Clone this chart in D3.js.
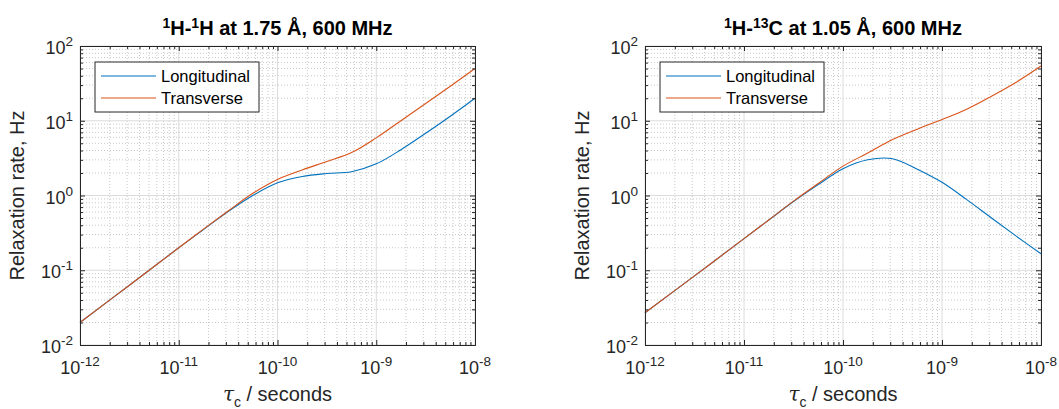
<!DOCTYPE html>
<html>
<head>
<meta charset="utf-8">
<script src="https://cdn.jsdelivr.net/npm/d3@7"></script>
<style>
  body { margin: 0; background: #fff; }
  svg { display: block; font-family: "Liberation Sans", Arial, Helvetica, sans-serif; }
</style>
</head>
<body>
<svg id="chart" width="1059" height="409"></svg>
<script>
// correlation times, log10 seconds
const logTau = [-12, -11.5, -11, -10.75, -10.5, -10.25, -10, -9.75, -9.5, -9.25, -9, -8.75, -8.5, -8.25, -8]

// 1H-1H at 1.75 A
const hhLongitudinal = [0.02, 0.063, 0.2, 0.35, 0.61, 1.0, 1.48, 1.8, 1.97, 2.08, 2.65, 4.1, 6.8, 11.5, 20]
const hhTransverse   = [0.02, 0.063, 0.2, 0.355, 0.62, 1.07, 1.64, 2.2, 2.85, 3.75, 5.9, 10.0, 17, 29, 50]

// 1H-13C at 1.05 A
const hcLongitudinal = [0.027, 0.084, 0.265, 0.47, 0.83, 1.4, 2.28, 3.0, 3.1, 2.25, 1.5, 0.88, 0.5, 0.286, 0.166]
const hcTransverse   = [0.027, 0.084, 0.265, 0.47, 0.84, 1.45, 2.47, 3.7, 5.6, 7.7, 10.4, 14.3, 21.3, 32.8, 54]

const xTicks = [1e-12, 1e-11, 1e-10, 1e-9, 1e-8]
const yTicks = [1e-2, 1e-1, 1e0, 1e1, 1e2]
const seriesNames = ["Longitudinal", "Transverse"]
const colors = ["#0072BD", "#D95319"]

const svg = d3.select("#chart")
const ink = "#262626"

function minorValues(lo, hi) {
    const out = []
    for (let e = lo; e < hi; e++) {
        for (let k = 2; k <= 9; k++) out.push(k * Math.pow(10, e))
    }
    return out
}

function powerLabel(sel, v) {
    const e = Math.round(Math.log10(v))
    sel.append("tspan").text("10")
    sel.append("tspan").attr("dy", -8).attr("font-size", 13.5).text(e)
}

function drawPanel(panel) {
    const g = svg.append("g").attr("transform", "translate(" + panel.left + "," + panel.top + ")")
    const w = panel.width, h = panel.height

    const x = d3.scaleLog().domain([1e-12, 1e-8]).range([0, w])
    const y = d3.scaleLog().domain([1e-2, 1e2]).range([h, 0])

    const xMinor = minorValues(-12, -8)
    const yMinor = minorValues(-2, 2)

    // grid
    const grid = g.append("g")
    grid.selectAll(".xminor").data(xMinor).join("line")
        .attr("x1", d => x(d)).attr("x2", d => x(d)).attr("y1", 0).attr("y2", h)
        .attr("stroke", "#c8c8c8").attr("stroke-dasharray", "1,2")
    grid.selectAll(".yminor").data(yMinor).join("line")
        .attr("y1", d => y(d)).attr("y2", d => y(d)).attr("x1", 0).attr("x2", w)
        .attr("stroke", "#c8c8c8").attr("stroke-dasharray", "1,2")
    grid.selectAll(".xmajor").data(xTicks).join("line")
        .attr("x1", d => x(d)).attr("x2", d => x(d)).attr("y1", 0).attr("y2", h)
        .attr("stroke", "#dcdcdc")
    grid.selectAll(".ymajor").data(yTicks).join("line")
        .attr("y1", d => y(d)).attr("y2", d => y(d)).attr("x1", 0).attr("x2", w)
        .attr("stroke", "#dcdcdc")

    // curves
    const line = d3.line()
        .x(d => x(d[0]))
        .y(d => y(d[1]))
        .curve(d3.curveCatmullRom.alpha(0.5))

    panel.series.forEach((vals, i) => {
        const pts = logTau.map((t, j) => [Math.pow(10, t), vals[j]])
        g.append("path")
            .datum(pts)
            .attr("d", line)
            .attr("fill", "none")
            .attr("stroke", colors[i])
            .attr("stroke-width", 1.1)
    })

    // axes, ticks inward on all four sides
    const axes = [
        d3.axisBottom(x).tickValues(xTicks).tickSizeInner(-5).tickSizeOuter(0).tickFormat(""),
        d3.axisTop(x).tickValues(xTicks).tickSizeInner(-5).tickSizeOuter(0).tickFormat(""),
        d3.axisLeft(y).tickValues(yTicks).tickSizeInner(-5).tickSizeOuter(0).tickFormat(""),
        d3.axisRight(y).tickValues(yTicks).tickSizeInner(-5).tickSizeOuter(0).tickFormat("")
    ]
    const minorAxes = [
        d3.axisBottom(x).tickValues(xMinor).tickSizeInner(-3).tickSizeOuter(0).tickFormat(""),
        d3.axisTop(x).tickValues(xMinor).tickSizeInner(-3).tickSizeOuter(0).tickFormat(""),
        d3.axisLeft(y).tickValues(yMinor).tickSizeInner(-3).tickSizeOuter(0).tickFormat(""),
        d3.axisRight(y).tickValues(yMinor).tickSizeInner(-3).tickSizeOuter(0).tickFormat("")
    ]
    const offsets = ["translate(0," + h + ")", "translate(0,0)", "translate(0,0)", "translate(" + w + ",0)"]
    axes.concat(minorAxes).forEach((ax, i) => {
        const a = g.append("g").attr("transform", offsets[i % 4]).call(ax)
        a.selectAll("path,line").attr("stroke", ink)
        a.select(".domain").attr("stroke-width", 1)
    })

    // tick labels
    g.selectAll(".xlab").data(xTicks).join("text")
        .attr("x", d => x(d)).attr("y", h + 29)
        .attr("text-anchor", "middle").attr("font-size", 18).attr("fill", ink)
        .each(function (d) { powerLabel(d3.select(this), d) })
    g.selectAll(".ylab").data(yTicks).join("text")
        .attr("x", -7).attr("y", d => y(d) + 8)
        .attr("text-anchor", "end").attr("font-size", 18).attr("fill", ink)
        .each(function (d) { powerLabel(d3.select(this), d) })

    // axis titles
    g.append("text")
        .attr("transform", "translate(" + (-56) + "," + (h / 2) + ") rotate(-90)")
        .attr("text-anchor", "middle").attr("font-size", 20).attr("fill", ink)
        .text("Relaxation rate, Hz")
    const xl = g.append("text")
        .attr("x", w / 2).attr("y", h + 56)
        .attr("text-anchor", "middle").attr("font-size", 20).attr("fill", ink)
    xl.append("tspan").attr("font-family", "'DejaVu Serif', serif").attr("font-style", "italic").text("τ")
    xl.append("tspan").attr("dy", 6).attr("font-size", 14).text("c")
    xl.append("tspan").attr("dy", -6).text(" / seconds")

    // title
    const t = g.append("text")
        .attr("x", w / 2).attr("y", -11)
        .attr("text-anchor", "middle").attr("font-size", 20).attr("font-weight", "bold").attr("fill", "#000")
    panel.title.forEach(part => {
        const s = t.append("tspan").text(part.text)
        if (part.sup) s.attr("dy", -7).attr("font-size", 14)
        else if (part.after) s.attr("dy", 7)
    })

    // legend
    const lg = g.append("g").attr("transform", "translate(15,16)")
    lg.append("rect").attr("width", 164).attr("height", 50)
        .attr("fill", "#fff").attr("stroke", ink).attr("stroke-width", 1)
    seriesNames.forEach((name, i) => {
        const yy = 14 + i * 22
        lg.append("line").attr("x1", 6).attr("x2", 61).attr("y1", yy).attr("y2", yy)
            .attr("stroke", colors[i]).attr("stroke-width", 1.1)
        lg.append("text").attr("x", 66).attr("y", yy + 6)
            .attr("font-size", 16.5).attr("fill", "#000").text(name)
    })
}

drawPanel({
    left: 80, top: 46, width: 395, height: 299,
    series: [hhLongitudinal, hhTransverse],
    title: [{ text: "1", sup: true }, { text: "H-", after: true }, { text: "1", sup: true }, { text: "H at 1.75 Å, 600 MHz", after: true }]
})
drawPanel({
    left: 645, top: 46, width: 396, height: 299,
    series: [hcLongitudinal, hcTransverse],
    title: [{ text: "1", sup: true }, { text: "H-", after: true }, { text: "13", sup: true }, { text: "C at 1.05 Å, 600 MHz", after: true }]
})
</script>
</body>
</html>
